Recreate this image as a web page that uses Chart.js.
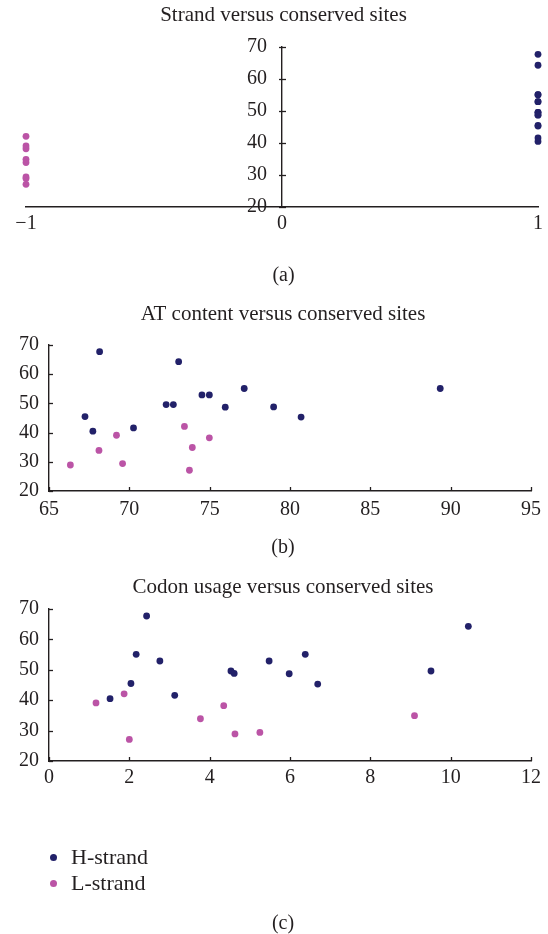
<!DOCTYPE html>
<html><head><meta charset="utf-8">
<script src="https://cdn.jsdelivr.net/npm/chart.js@4.4.1/dist/chart.umd.min.js"></script>
<style>
html,body{margin:0;padding:0;background:#fff;}
body{width:548px;height:934px;position:relative;overflow:hidden;font-family:"Liberation Serif",serif;}
canvas{position:absolute;left:0;}
#legend{position:absolute;left:0;top:845px;font-size:22px;font-family:"Liberation Serif",serif;color:#231f20;}
.item{position:relative;height:26.4px;line-height:24px;padding-left:71px;white-space:nowrap;}
.dot{position:absolute;left:49.8px;top:8.5px;width:7px;height:7px;border-radius:50%;}
</style></head><body>
<canvas id="ca" width="548" height="300" style="top:0px"></canvas>
<canvas id="cb" width="548" height="270" style="top:295px"></canvas>
<canvas id="cc" width="548" height="369" style="top:565px"></canvas>
<div id="legend"></div>
<script>
// ---- data ----
const seriesNames = ['H-strand', 'L-strand'];
const strandCodeH = 1;
const strandCodeL = -1;
const conservedH = [67.7, 64.3, 55.1, 55.1, 52.9, 52.9, 49.6, 49.6, 48.8, 48.7, 45.5, 45.3, 41.6, 40.5];
const atH        = [68.15, 73.07, 77.15, 89.35, 74.52, 74.98, 72.29, 72.74, 78.98, 75.97, 67.24, 80.69, 70.26, 67.73];
const codonH     = [2.43, 10.44, 2.17, 6.38, 2.76, 5.48, 4.53, 9.51, 4.61, 5.98, 2.04, 6.69, 3.13, 1.52];
const conservedL = [42.1, 39.1, 38.2, 34.9, 33.9, 29.4, 28.9, 27.1];
const atL        = [73.43, 69.2, 74.98, 73.92, 68.11, 69.58, 66.33, 73.74];
const codonL     = [1.87, 1.17, 4.35, 9.1, 3.77, 5.25, 4.63, 2.0];

// tick labels
const conservedTicks = [20, 30, 40, 50, 60, 70];
const strandTicks = [-1, 0, 1];
const strandTickLabels = ['\u22121', '0', '1'];
const atTicks = [65, 70, 75, 80, 85, 90, 95];
const codonTicks = [0, 2, 4, 6, 8, 10, 12];

const titles = ['Strand versus conserved sites', 'AT content versus conserved sites', 'Codon usage versus conserved sites'];
const panelLabels = ['(a)', '(b)', '(c)'];

// ---- styles ----
const colH = '#222169';
const colL = '#bb54a6';
const textCol = '#231f20';
const axisCol = '#231f20';
const FONT = '"Liberation Serif", "Times New Roman", serif';

function pts(xs, ys) { return xs.map((x, i) => ({x: x, y: ys[i]})); }

const innerTicks = {
  id: 'innerTicks',
  afterDraw(chart, args, opts) {
    const ctx = chart.ctx, xs = chart.scales.x, ys = chart.scales.y, ca = chart.chartArea;
    ctx.save();
    ctx.strokeStyle = axisCol; ctx.lineWidth = 1.3;
    const yAxisX = (opts.yAt !== undefined) ? xs.getPixelForValue(opts.yAt) : ca.left;
    if (opts.y) {
      ys.ticks.forEach(t => {
        const py = Math.round(ys.getPixelForValue(t.value)) + 0.5;
        ctx.beginPath(); ctx.moveTo(yAxisX - opts.y[0], py); ctx.lineTo(yAxisX + opts.y[1], py); ctx.stroke();
      });
    }
    if (opts.x) {
      xs.ticks.forEach(t => {
        const px = Math.round(xs.getPixelForValue(t.value)) + 0.5;
        ctx.beginPath(); ctx.moveTo(px, ca.bottom + opts.x[0]); ctx.lineTo(px, ca.bottom - opts.x[1]); ctx.stroke();
      });
    }
    ctx.restore();
  }
};

// shifts the title / subtitle blocks horizontally so they centre like the reference
const titleShift = {
  id: 'titleShift',
  afterLayout(chart, args, opts) {
    const dx = opts.dx || 0;
    if (!dx) return;
    chart.boxes.forEach(b => {
      if (b.options && b.options.text !== undefined && b.isHorizontal && b.isHorizontal()) {
        b.left += dx; b.right += dx;
      }
    });
  }
};

function ds(label, data, color) {
  return {label: label, data: data, backgroundColor: color, borderColor: color, borderWidth: 0,
          pointRadius: 3.4, pointHoverRadius: 3.4, clip: false};
}

function axis(min, max, tickVals, tickLabels, pad, extra) {
  return Object.assign({
    type: 'linear', min: min, max: max,
    afterBuildTicks: s => { s.ticks = tickVals.map(v => ({value: v})); },
    ticks: {color: textCol, font: {family: FONT, size: 20}, padding: pad, autoSkip: false, maxRotation: 0,
            callback: (v, i) => tickLabels ? tickLabels[i] : String(v)},
    grid: {display: false, drawTicks: false},
    border: {display: true, color: axisCol, width: 1.4}
  }, extra || {});
}

function make(id, o) {
  return new Chart(document.getElementById(id), {
    type: 'scatter',
    data: {datasets: [ds(seriesNames[0], o.h, colH), ds(seriesNames[1], o.l, colL)]},
    options: {
      responsive: false, animation: false, events: [],
      layout: {padding: o.pad},
      plugins: {
        legend: {display: false}, tooltip: {enabled: false},
        title: {display: true, text: o.title, color: textCol, font: {family: FONT, size: 21, weight: 'normal', lineHeight: 24 / 21}, padding: o.tpad},
        subtitle: {display: true, position: 'bottom', text: o.sub, color: textCol,
                   font: {family: FONT, size: 20, weight: 'normal', lineHeight: o.subLH || 1.2}, padding: o.spad},
        innerTicks: o.ticks,
        titleShift: {dx: o.dx || 0}
      },
      scales: {x: o.x, y: o.y}
    },
    plugins: [innerTicks, titleShift]
  });
}

// panel (a): y axis crosses at strand 0; labels sit left of it
const yLabelsA = conservedTicks.map(v => String(v) + '\u00a0\u00a0\u00a0');
make('ca', {
  h: conservedH.map(() => strandCodeH).map((x, i) => ({x: x, y: conservedH[i]})),
  l: conservedL.map(() => strandCodeL).map((x, i) => ({x: x, y: conservedL[i]})),
  title: titles[0], sub: panelLabels[0],
  pad: {left: 26, right: 7, top: 0, bottom: 12},
  tpad: {top: 3, bottom: 20}, spad: {top: 28, bottom: 0},
  x: axis(-1, 1, strandTicks, strandTickLabels, 5, {position: 'bottom', afterFit: s => { s.height = 29; }}),
  y: axis(20, 70, conservedTicks, yLabelsA, 14, {position: {x: 0}}),
  ticks: {yAt: 0, y: [3, 4]}
});

make('cb', {
  h: pts(atH, conservedH), l: pts(atL, conservedL),
  title: titles[1], sub: panelLabels[1],
  pad: {left: 19, right: 17, top: 0, bottom: 5},
  tpad: {top: 7, bottom: 19}, spad: {top: 14, bottom: 0}, dx: 8,
  x: axis(65, 95, atTicks, null, 7, {position: 'bottom', afterFit: s => { s.height = 31; }}),
  y: axis(20, 70, conservedTicks, null, 10, {position: 'left', afterFit: s => { s.width = 30; }}),
  ticks: {y: [0, 4], x: [0, 4]}
});

make('cc', {
  h: pts(codonH, conservedH), l: pts(codonL, conservedL),
  title: titles[2], sub: panelLabels[2],
  pad: {left: 19, right: 17, top: 0, bottom: 0},
  tpad: {top: 10, bottom: 10}, spad: {top: 124, bottom: 0}, subLH: 1, dx: 8,
  x: axis(0, 12, codonTicks, null, 5, {position: 'bottom', afterFit: s => { s.height = 29; }}),
  y: axis(20, 70, conservedTicks, null, 10, {position: 'left', afterFit: s => { s.width = 30; }}),
  ticks: {y: [0, 4], x: [0, 4]}
});

// legend (HTML) built from series names and colors
const legend = document.getElementById('legend');
[[seriesNames[0], colH], [seriesNames[1], colL]].forEach(([name, c]) => {
  const d = document.createElement('div'); d.className = 'item';
  const dot = document.createElement('span'); dot.className = 'dot'; dot.style.background = c;
  d.appendChild(dot); d.appendChild(document.createTextNode(name));
  legend.appendChild(d);
});
</script>
</body></html>
